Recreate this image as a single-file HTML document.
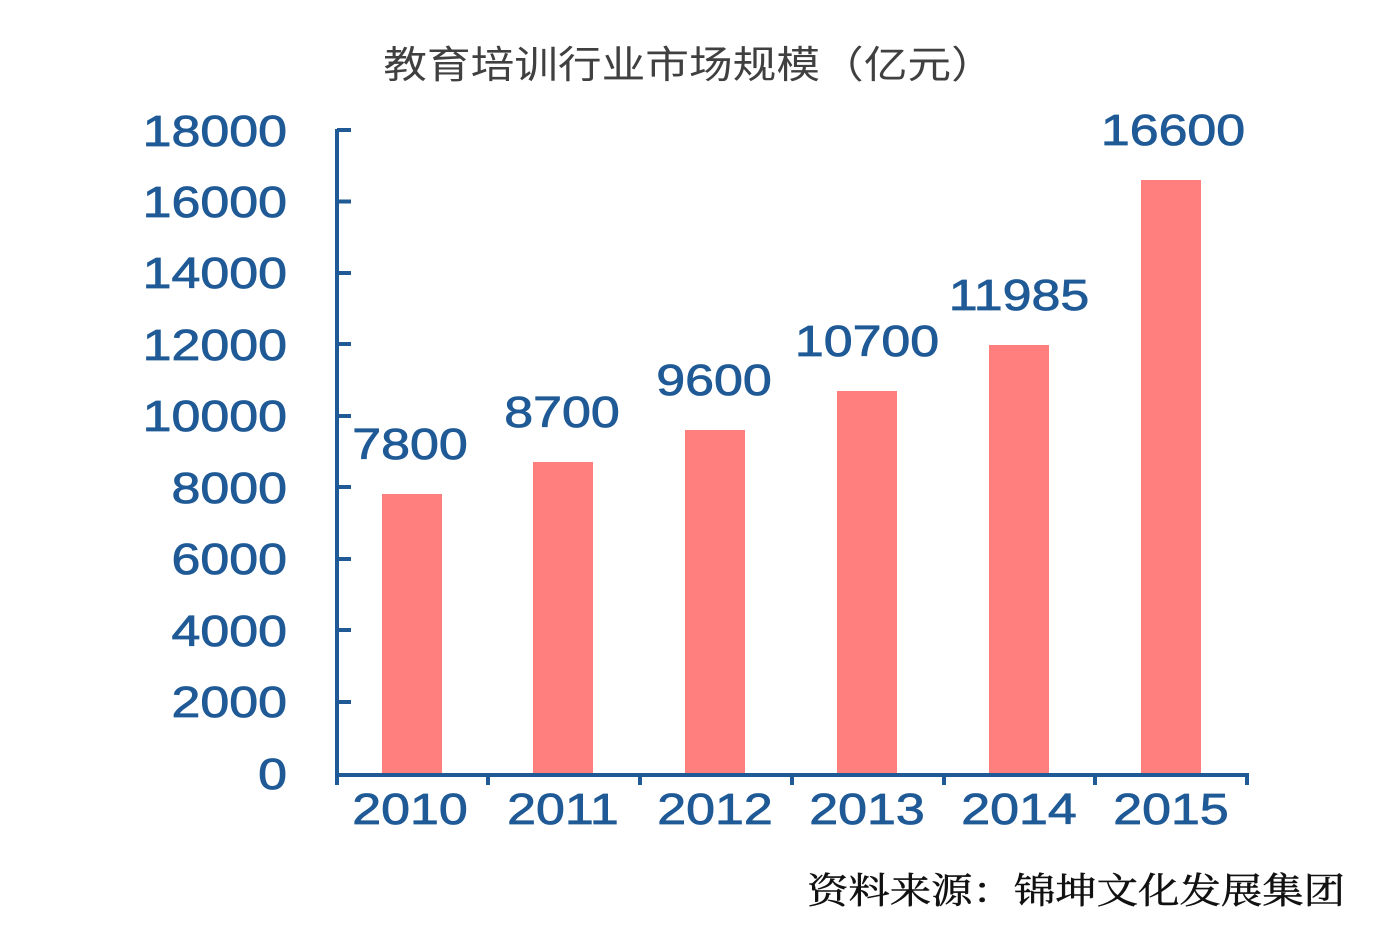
<!DOCTYPE html><html><head><meta charset="utf-8"><style>body{margin:0;background:#fff}</style></head><body>
<svg width="1400" height="947" xmlns="http://www.w3.org/2000/svg" font-family="Liberation Sans, Noto Sans CJK SC, sans-serif">
<text transform="translate(689,78) scale(1.15,1)" text-anchor="middle" font-size="38" fill="#404040">教育培训行业市场规模（亿元）</text>
<g fill="#1F5A96" stroke="#1F5A96" stroke-width="0.8" font-size="44" text-anchor="end">
<text transform="translate(287,789) scale(1.18,1)">0</text>
<text transform="translate(287,717) scale(1.18,1)">2000</text>
<text transform="translate(287,646) scale(1.18,1)">4000</text>
<text transform="translate(287,574) scale(1.18,1)">6000</text>
<text transform="translate(287,503) scale(1.18,1)">8000</text>
<text transform="translate(287,431) scale(1.18,1)">10000</text>
<text transform="translate(287,360) scale(1.18,1)">12000</text>
<text transform="translate(287,288) scale(1.18,1)">14000</text>
<text transform="translate(287,217) scale(1.18,1)">16000</text>
<text transform="translate(287,146) scale(1.18,1)">18000</text>
</g>
<g fill="#FF7F7F">
<rect x="382" y="494" width="60" height="279"/><rect x="533" y="462" width="60" height="311"/><rect x="685" y="430" width="60" height="343"/><rect x="837" y="391" width="60" height="382"/><rect x="989" y="345" width="60" height="428"/><rect x="1141" y="180" width="60" height="593"/>
</g>
<g stroke="#1F5A96" stroke-width="4" fill="none">
<path d="M337 129 V775 H1247"/>
<path d="M337 130h14M337 201.5h14M337 273h14M337 344h14M337 416h14M337 487h14M337 559h14M337 630h14M337 702h14"/>
<path d="M337 773v12M488 773v12M640 773v12M792 773v12M944 773v12M1095 773v12M1247 773v12"/>
</g>
<g fill="#1F5A96" stroke="#1F5A96" stroke-width="0.8" font-size="44" text-anchor="middle">
<text transform="translate(410,824) scale(1.18,1)">2010</text>
<text transform="translate(563,824) scale(1.18,1)">2011</text>
<text transform="translate(715,824) scale(1.18,1)">2012</text>
<text transform="translate(867,824) scale(1.18,1)">2013</text>
<text transform="translate(1019,824) scale(1.18,1)">2014</text>
<text transform="translate(1171,824) scale(1.18,1)">2015</text>
<text transform="translate(410,459) scale(1.18,1)">7800</text>
<text transform="translate(562,427) scale(1.18,1)">8700</text>
<text transform="translate(714,395) scale(1.18,1)">9600</text>
<text transform="translate(867,356) scale(1.18,1)">10700</text>
<text transform="translate(1019,310) scale(1.18,1)">11985</text>
<text transform="translate(1173,145) scale(1.18,1)">16600</text>
</g>
<text transform="translate(1345,903) scale(1.15,1)" text-anchor="end" font-size="36" fill="#111" stroke="#111" stroke-width="0.5" font-family="Liberation Serif, Noto Serif CJK SC, serif">资料来源：锦坤文化发展集团</text>
</svg></body></html>
